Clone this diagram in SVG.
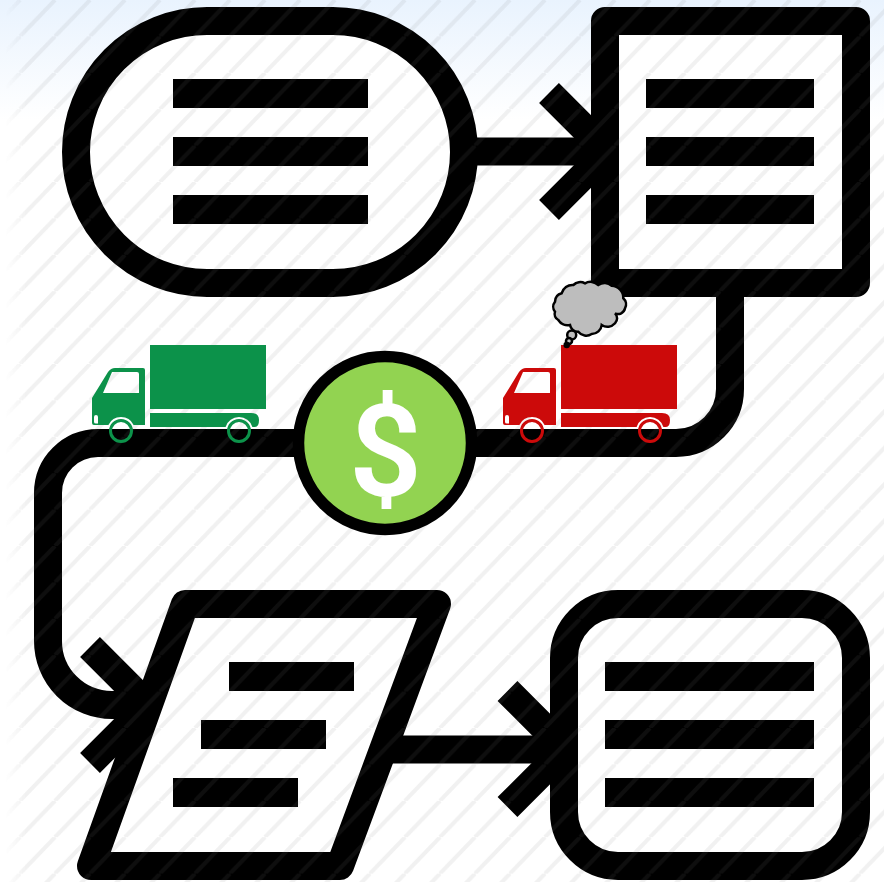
<svg xmlns="http://www.w3.org/2000/svg" width="884" height="882" viewBox="0 0 884 882">
<style>
.o{fill:#fff;stroke:#000;stroke-width:28;stroke-linejoin:round}
.b{fill:#000}
.g{fill:#0c924a}.gs{fill:none;stroke:#0c924a;stroke-width:3}
.r{fill:#cc0a0a}.rs{fill:none;stroke:#cc0a0a;stroke-width:3}
</style>
<defs>
<linearGradient id="bg" x1="0" y1="0" x2="0" y2="1"><stop offset="0" stop-color="#e9f3fe"/><stop offset="1" stop-color="#fff"/></linearGradient>
<linearGradient id="fade" x1="0" y1="0" x2="1" y2="0"><stop offset="0.006" stop-color="#000"/><stop offset="0.03" stop-color="#fff"/></linearGradient>
<mask id="edge" maskUnits="userSpaceOnUse" x="0" y="0" width="884" height="882"><rect width="884" height="882" fill="url(#fade)"/></mask>
<pattern id="st" x="20" width="35" height="36.400" patternUnits="userSpaceOnUse">
<path d="M-35 36.400L0 0M0 36.400L35 0M35 36.400L70 0" stroke="#7f7f7f" stroke-opacity=".11" stroke-width="4" fill="none"/>
</pattern>
<path id="cab" d="M92 398L108 372Q111 368 115 368L143 368Q145 368 145 370L145 425L133.600 425A14 14 0 0 0 108.400 425L94 425Q92 425 92 423Z M112 372L137 372Q139 372 139 374L139 393L103 393Z M94 417L94 422Q94 423.500 96 423.500L98 423.500L98 417Q98 415 96 415Q94 415 94 417Z" fill-rule="evenodd"/>
<path id="bed" d="M150 345H266V409H150Z M150 413H251Q259 413 259 420Q259 427 255 427L252.400 427A14 14 0 0 0 225.600 427H150Z"/>
</defs>
<rect width="884" height="882" fill="#fff"/>
<rect width="884" height="120" fill="url(#bg)"/>
<g id="connectors" fill="none" stroke="#000" stroke-width="28">
<path d="M470 151.500H600"/>
<path d="M549 93L607.500 151.500L549 210"/>
<path d="M730 290V389A54 54 0 0 1 676 443H98A50 50 0 0 0 48 493V641A64 64 0 0 0 112 705H150"/>
<path d="M90 647L148 705L90 763"/>
<path d="M385 749.500H560"/>
<path d="M507.500 691L565.500 749L507.500 807"/>
</g>
<g id="node-start"><rect class="o" x="76" y="21" width="388" height="262" rx="131"/><path class="b" d="M173 79H368V108H173ZM173 137H368V166H173ZM173 195H368V224H173Z"/></g>
<g id="node-process"><rect class="o" x="605" y="21" width="251" height="262"/><path class="b" d="M646 79H814V108H646ZM646 137H814V166H646ZM646 195H814V224H646Z"/></g>
<g id="node-data"><path class="o" d="M185 604H437L340 866H91Z"/><path class="b" d="M229 662H354V691H229ZM201 720H326V749H201ZM173 778H298V807H173Z"/></g>
<g id="node-end"><rect class="o" x="564" y="604" width="292" height="262" rx="54"/><path class="b" d="M605 662H814V691H605ZM605 720H814V749H605ZM605 778H814V807H605Z"/></g>
<rect id="stripes" width="884" height="882" fill="url(#st)" mask="url(#edge)"/>
<g id="truck-green" class="g"><use href="#cab"/><use href="#bed"/><circle class="gs" cx="121" cy="431" r="10.500"/><circle class="gs" cx="239" cy="431" r="10.500"/></g>
<g id="truck-red" class="r" transform="translate(411 0)"><use href="#cab"/><use href="#bed"/><circle class="rs" cx="121" cy="431" r="10.500"/><circle class="rs" cx="239" cy="431" r="10.500"/></g>
<g id="cloud" fill="#bdbdbd" stroke="#000" stroke-width="2.500">
<path d="M561.700 293.300A11 11 0 0 1 573.300 285A10 10 0 0 1 585 283.300A11 11 0 0 1 598.300 285A11 11 0 0 1 611.700 285.700A12 12 0 0 1 623.300 298.300A8 8 0 0 1 625 308.300A7 7 0 0 1 615 313.300A7 7 0 0 1 615 323.300A10 10 0 0 1 601.700 325A10 10 0 0 1 591.700 334A10 10 0 0 1 578.300 331.700A8 8 0 0 1 570 325A11 11 0 0 1 558.300 320A7 7 0 0 1 555 311.700A8 8 0 0 1 555 301.700A9 9 0 0 1 561.700 293.300Z"/>
<circle cx="571.700" cy="335" r="4.500"/><circle cx="569" cy="341" r="3"/><circle cx="566.700" cy="345" r="2" fill="#000"/>
</g>
<g id="coin"><circle cx="385" cy="443" r="86.500" fill="#92d351" stroke="#000" stroke-width="11.500"/><text x="385.500" y="496" font-family="Roboto,sans-serif" font-weight="600" font-size="128" fill="#fff" text-anchor="middle">$</text></g>
</svg>
